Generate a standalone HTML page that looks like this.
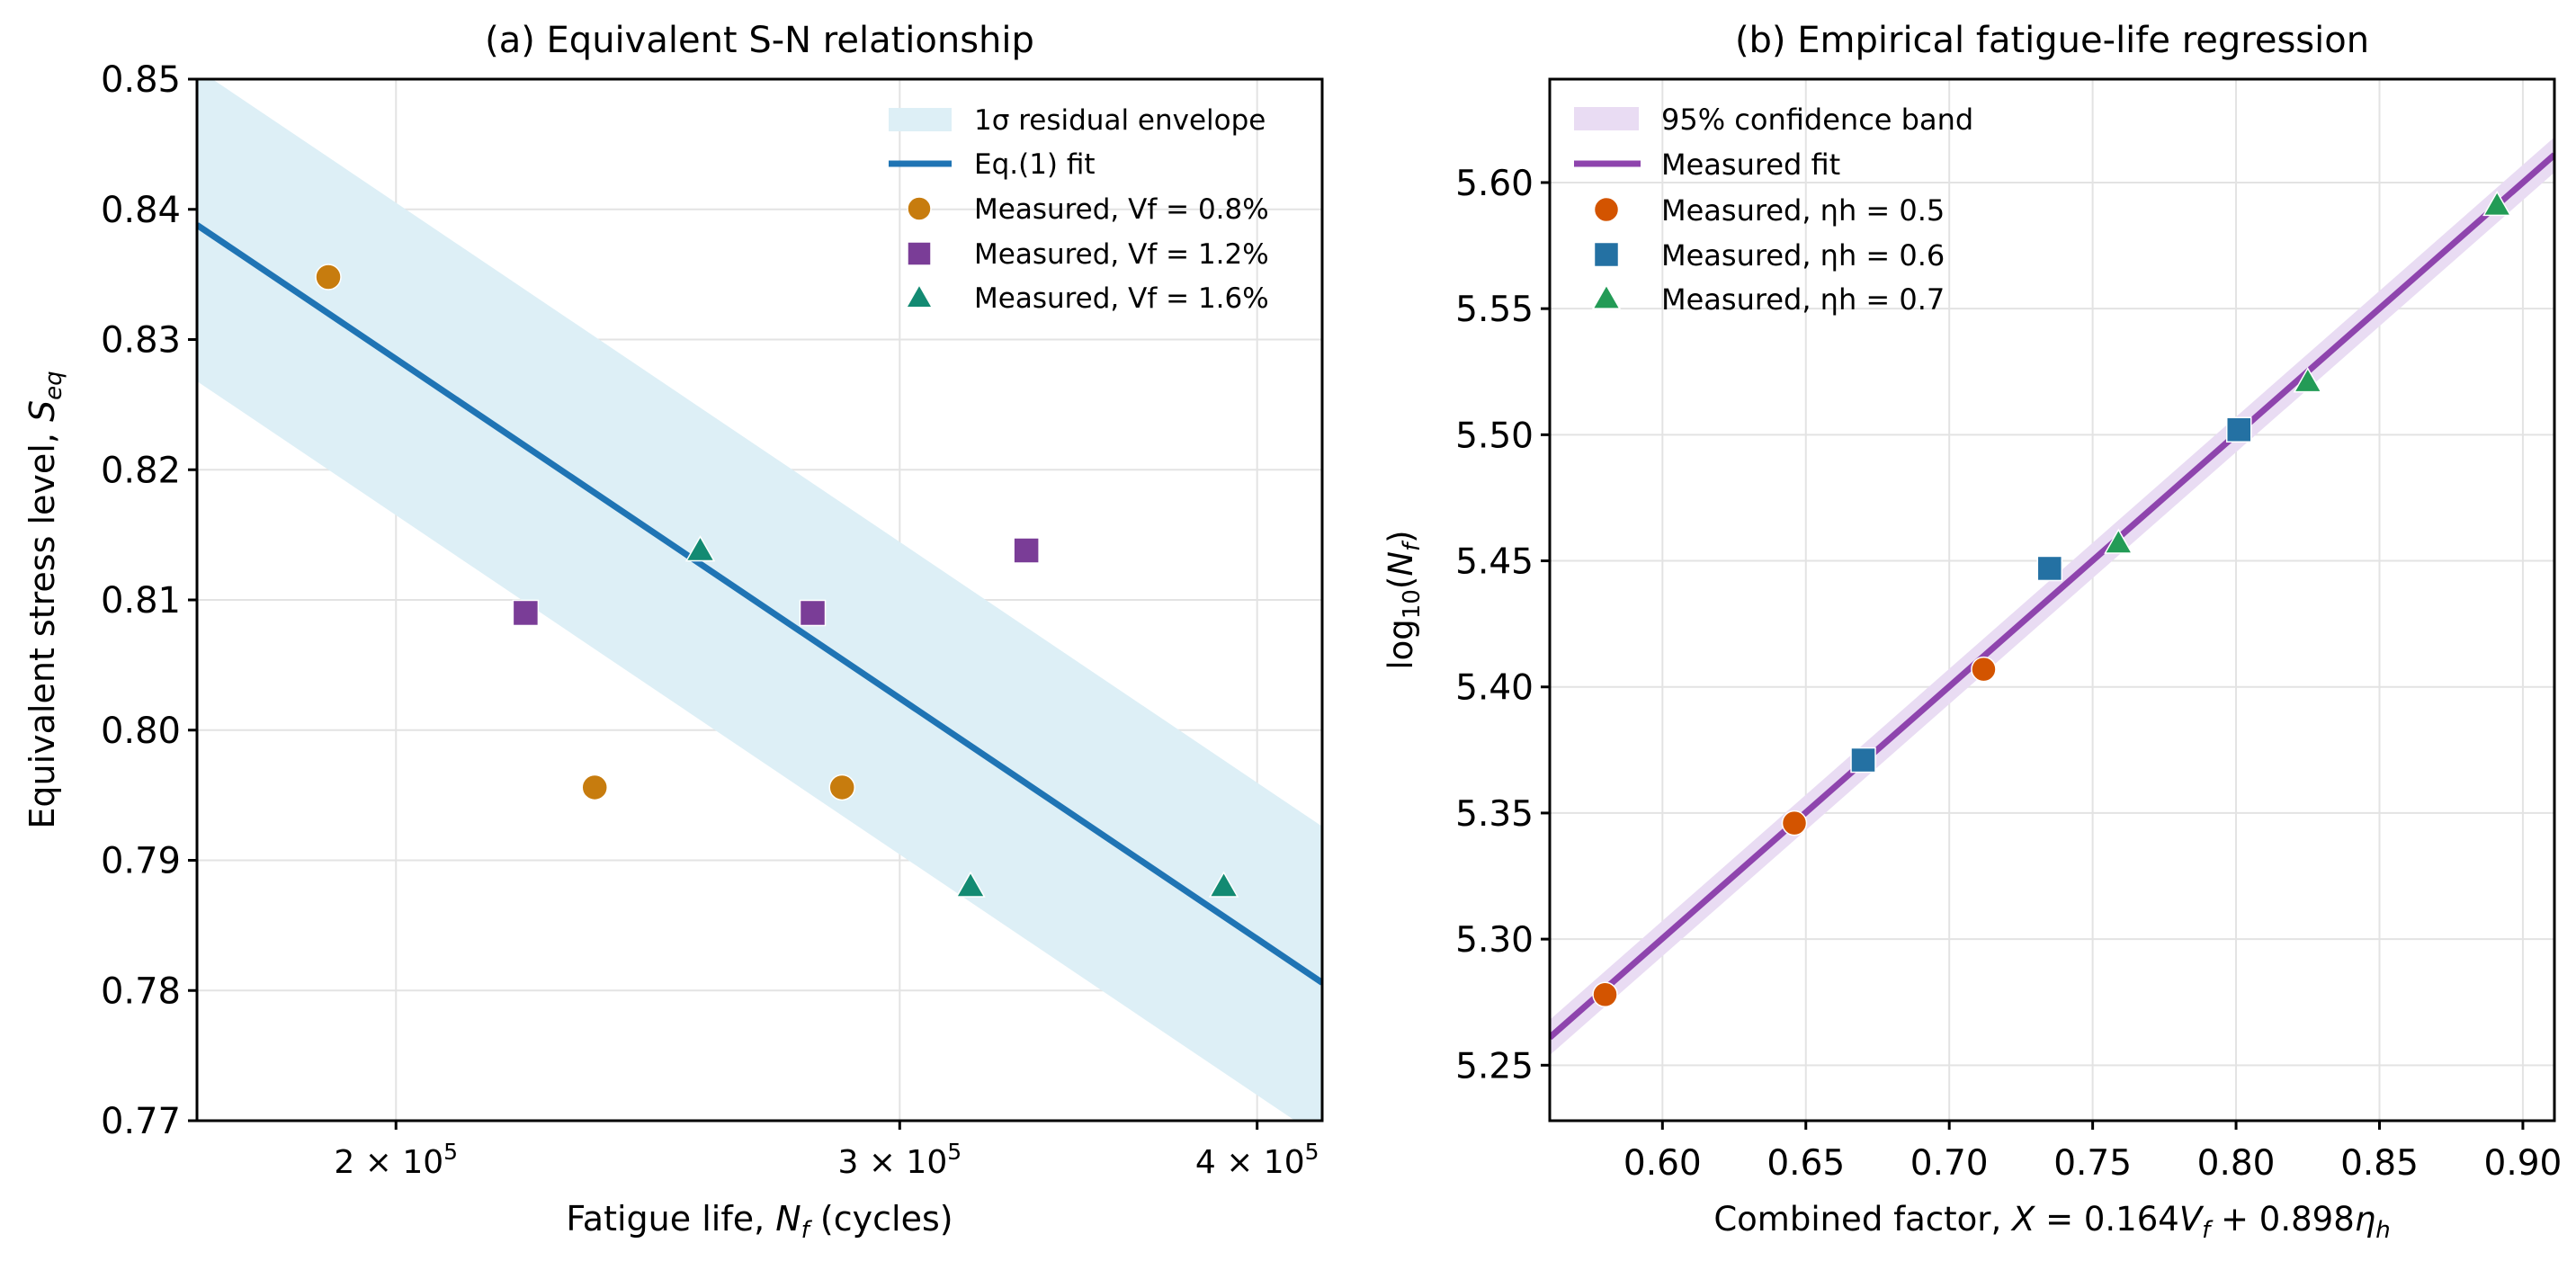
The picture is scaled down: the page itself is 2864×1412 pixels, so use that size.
<!DOCTYPE html>
<html><head><meta charset="utf-8"><style>
html,body{margin:0;padding:0;background:#fff}
svg{display:block;font-family:"DejaVu Sans","Liberation Sans",sans-serif}
</style></head><body>
<svg id="fig" width="2864" height="1412" viewBox="0 0 2864 1412" xmlns="http://www.w3.org/2000/svg">
<g id="pa"></g>
<g id="pb"></g>
</svg>
<script>
// ---- Panel (a) data ----
const aXTicks = [2e5, 3e5, 4e5];
const aXTickLabels = ["2", "3", "4"];
const aYTicks = [0.77, 0.78, 0.79, 0.80, 0.81, 0.82, 0.83, 0.84, 0.85];
const aYTickLabels = ["0.77","0.78","0.79","0.80","0.81","0.82","0.83","0.84","0.85"];
const aFitX = [1.704e5, 4.215e5];
const aFitY = [0.8388, 0.7806];
const aBandHalf = 0.0120;
const aVf08X = [1.894e5, 2.347e5, 2.864e5];
const aVf08Y = [0.8348, 0.7956, 0.7956];
const aVf12X = [2.22e5, 2.797e5, 3.322e5];
const aVf12Y = [0.8090, 0.8090, 0.8138];
const aVf16X = [2.555e5, 3.176e5, 3.894e5];
const aVf16Y = [0.8138, 0.7880, 0.7880];
// ---- Panel (b) data ----
const bXTicks = [0.60, 0.65, 0.70, 0.75, 0.80, 0.85, 0.90];
const bXTickLabels = ["0.60","0.65","0.70","0.75","0.80","0.85","0.90"];
const bYTicks = [5.25, 5.30, 5.35, 5.40, 5.45, 5.50, 5.55, 5.60];
const bYTickLabels = ["5.25","5.30","5.35","5.40","5.45","5.50","5.55","5.60"];
const bFitX = [0.5607, 0.911];
const bFitY = [5.261, 5.611];
const bBandHalf = 0.007;
const bEta5X = [0.580, 0.646, 0.712];
const bEta5Y = [5.278, 5.346, 5.407];
const bEta6X = [0.670, 0.735, 0.801];
const bEta6Y = [5.371, 5.447, 5.502];
const bEta7X = [0.759, 0.825, 0.891];
const bEta7Y = [5.457, 5.521, 5.591];

const NS = "http://www.w3.org/2000/svg";
function mk(parent, tag, attrs, text) {
  const e = document.createElementNS(NS, tag);
  for (const k in attrs) e.setAttribute(k, attrs[k]);
  if (text !== undefined) e.textContent = text;
  parent.appendChild(e);
  return e;
}
function marker(g, shape, cx, cy, s, fill) {
  let e;
  if (shape === "o") e = mk(g, "circle", {cx: cx, cy: cy, r: s / 2, fill: fill, stroke: "#fff", "stroke-width": 1.5});
  else if (shape === "s") e = mk(g, "rect", {x: cx - s / 2, y: cy - s / 2, width: s, height: s, fill: fill, stroke: "#fff", "stroke-width": 1.5});
  else { const h = s * 0.55; e = mk(g, "polygon", {points: `${cx},${cy - h} ${cx - h},${cy + h * 0.75} ${cx + h},${cy + h * 0.75}`, fill: fill, stroke: "#fff", "stroke-width": 1.5}); }
  return e;
}

// ===== Panel A =====
(function () {
  const g = document.getElementById("pa");
  const L = 219, R = 1470, T = 88, B = 1246;
  const xmin = Math.log10(1.704e5), xmax = Math.log10(4.215e5), ymin = 0.77, ymax = 0.85;
  const sx = v => L + (Math.log10(v) - xmin) / (xmax - xmin) * (R - L);
  const sy = v => B - (v - ymin) / (ymax - ymin) * (B - T);
  const defs = mk(g, "defs", {});
  const cp = mk(defs, "clipPath", {id: "clipA"});
  mk(cp, "rect", {x: L, y: T, width: R - L, height: B - T});
  const title = mk(g, "text", {x: (L + R) / 2, y: 58, "text-anchor": "middle", "font-size": 40}, "(a) Equivalent S-N relationship");
  
  
  const grid = mk(g, "g", {stroke: "#e3e3e3", "stroke-width": 2});
  aXTicks.forEach(t => mk(grid, "line", {x1: sx(t), x2: sx(t), y1: T, y2: B}));
  aYTicks.forEach(t => mk(grid, "line", {x1: L, x2: R, y1: sy(t), y2: sy(t)}));
  const plot = mk(g, "g", {"clip-path": "url(#clipA)"});
  const band = mk(plot, "polygon", {points: `${sx(aFitX[0])},${sy(aFitY[0] + aBandHalf)} ${sx(aFitX[1])},${sy(aFitY[1] + aBandHalf)} ${sx(aFitX[1])},${sy(aFitY[1] - aBandHalf)} ${sx(aFitX[0])},${sy(aFitY[0] - aBandHalf)}`, fill: "#ddeff6"});
  
  
  const fit = mk(plot, "line", {x1: sx(aFitX[0]), y1: sy(aFitY[0]), x2: sx(aFitX[1]), y2: sy(aFitY[1]), stroke: "#1f74b4", "stroke-width": 7});
  
  
  const series = [[aVf08X, aVf08Y, "o", "#c77c0e", "vf-0.8"], [aVf12X, aVf12Y, "s", "#7a3d97", "vf-1.2"], [aVf16X, aVf16Y, "^", "#138a72", "vf-1.6"]];
  series.forEach(([xs, ys, sh, c, nm]) => xs.forEach((x, i) => {
    const m = marker(plot, sh, sx(x), sy(ys[i]), 28, c);
    
    
  }));
  const ax = mk(g, "g", {stroke: "#000", "stroke-width": 3, fill: "none"});
  mk(ax, "rect", {x: L, y: T, width: R - L, height: B - T});
  aXTicks.forEach((t, i) => {
    mk(ax, "line", {x1: sx(t), x2: sx(t), y1: B, y2: B + 10});
    const tx = mk(g, "text", {x: sx(t), y: B + 58, "text-anchor": "middle", "font-size": 36, fill: "#000"});
    
    
    mk(tx, "tspan", {}, aXTickLabels[i] + " \u00d7 10");
    mk(tx, "tspan", {dy: -15, "font-size": 25}, "5");
  });
  aYTicks.forEach((t, i) => {
    mk(ax, "line", {x1: L - 10, x2: L, y1: sy(t), y2: sy(t)});
    const ty = mk(g, "text", {x: L - 18, y: sy(t) + 14, "text-anchor": "end", "font-size": 40}, aYTickLabels[i]);
    
    
  });
  const xl = mk(g, "text", {x: (L + R) / 2, y: 1368, "text-anchor": "middle", "font-size": 38});
  
  
  mk(xl, "tspan", {}, "Fatigue life, ");
  mk(xl, "tspan", {"font-style": "italic"}, "N");
  mk(xl, "tspan", {"font-style": "italic", "font-size": 26, dy: 8}, "f");
  mk(xl, "tspan", {dy: -8}, " (cycles)");
  const yl = mk(g, "text", {transform: `translate(60,${(T + B) / 2}) rotate(-90)`, "text-anchor": "middle", "font-size": 38});
  
  
  mk(yl, "tspan", {}, "Equivalent stress level, ");
  mk(yl, "tspan", {"font-style": "italic"}, "S");
  mk(yl, "tspan", {"font-style": "italic", "font-size": 26, dy: 8}, "eq");
  const lg = mk(g, "g", {"font-size": 31});
  
  
  const ly = [133, 182, 232, 282, 331], lx = 1083, mx = 1022;
  mk(lg, "rect", {x: 988, y: ly[0] - 13, width: 70, height: 26, fill: "#ddeff6"});
  mk(lg, "line", {x1: 988, x2: 1058, y1: ly[1], y2: ly[1], stroke: "#1f74b4", "stroke-width": 7});
  marker(lg, "o", mx, ly[2], 26, "#c77c0e");
  marker(lg, "s", mx, ly[3], 26, "#7a3d97");
  marker(lg, "^", mx, ly[4], 26, "#138a72");
  ["1\u03c3 residual envelope", "Eq.(1) fit", "Measured, Vf = 0.8%", "Measured, Vf = 1.2%", "Measured, Vf = 1.6%"].forEach((t, i) => {
    const e = mk(lg, "text", {x: lx, y: ly[i] + 11}, t);
    
    
  });
})();

// ===== Panel B =====
(function () {
  const g = document.getElementById("pb");
  const L = 1723, R = 2840, T = 88, B = 1246;
  const xmin = 0.5607, xmax = 0.911, ymin = 5.228, ymax = 5.641;
  const sx = v => L + (v - xmin) / (xmax - xmin) * (R - L);
  const sy = v => B - (v - ymin) / (ymax - ymin) * (B - T);
  const defs = mk(g, "defs", {});
  const cp = mk(defs, "clipPath", {id: "clipB"});
  mk(cp, "rect", {x: L, y: T, width: R - L, height: B - T});
  const title = mk(g, "text", {x: (L + R) / 2, y: 58, "text-anchor": "middle", "font-size": 40}, "(b) Empirical fatigue-life regression");
  
  
  const grid = mk(g, "g", {stroke: "#e3e3e3", "stroke-width": 2});
  bXTicks.forEach(t => mk(grid, "line", {x1: sx(t), x2: sx(t), y1: T, y2: B}));
  bYTicks.forEach(t => mk(grid, "line", {x1: L, x2: R, y1: sy(t), y2: sy(t)}));
  const plot = mk(g, "g", {"clip-path": "url(#clipB)"});
  const band = mk(plot, "polygon", {points: `${sx(bFitX[0])},${sy(bFitY[0] + bBandHalf)} ${sx(bFitX[1])},${sy(bFitY[1] + bBandHalf)} ${sx(bFitX[1])},${sy(bFitY[1] - bBandHalf)} ${sx(bFitX[0])},${sy(bFitY[0] - bBandHalf)}`, fill: "#e9dcf3"});
  
  
  const fit = mk(plot, "line", {x1: sx(bFitX[0]), y1: sy(bFitY[0]), x2: sx(bFitX[1]), y2: sy(bFitY[1]), stroke: "#8e44ad", "stroke-width": 7});
  
  
  const series = [[bEta5X, bEta5Y, "o", "#d35400", "eta-0.5"], [bEta6X, bEta6Y, "s", "#2471a3", "eta-0.6"], [bEta7X, bEta7Y, "^", "#239b56", "eta-0.7"]];
  series.forEach(([xs, ys, sh, c, nm]) => xs.forEach((x, i) => {
    const m = marker(plot, sh, sx(x), sy(ys[i]), 27, c);
    
    
  }));
  const ax = mk(g, "g", {stroke: "#000", "stroke-width": 3, fill: "none"});
  mk(ax, "rect", {x: L, y: T, width: R - L, height: B - T});
  bXTicks.forEach((t, i) => {
    mk(ax, "line", {x1: sx(t), x2: sx(t), y1: B, y2: B + 10});
    const tx = mk(g, "text", {x: sx(t), y: B + 60, "text-anchor": "middle", "font-size": 39}, bXTickLabels[i]);
    
    
  });
  bYTicks.forEach((t, i) => {
    mk(ax, "line", {x1: L - 10, x2: L, y1: sy(t), y2: sy(t)});
    const ty = mk(g, "text", {x: L - 18, y: sy(t) + 14, "text-anchor": "end", "font-size": 39}, bYTickLabels[i]);
    
    
  });
  const xl = mk(g, "text", {x: (L + R) / 2, y: 1368, "text-anchor": "middle", "font-size": 37});
  
  
  mk(xl, "tspan", {}, "Combined factor, ");
  mk(xl, "tspan", {"font-style": "italic"}, "X");
  mk(xl, "tspan", {}, " = 0.164");
  mk(xl, "tspan", {"font-style": "italic"}, "V");
  mk(xl, "tspan", {"font-style": "italic", "font-size": 26, dy: 8}, "f");
  mk(xl, "tspan", {dy: -8}, " + 0.898");
  mk(xl, "tspan", {"font-style": "italic"}, "\u03b7");
  mk(xl, "tspan", {"font-style": "italic", "font-size": 26, dy: 8}, "h");
  const yl = mk(g, "text", {transform: `translate(1570,${(T + B) / 2}) rotate(-90)`, "text-anchor": "middle", "font-size": 37});
  
  
  mk(yl, "tspan", {}, "log");
  mk(yl, "tspan", {"font-size": 26, dy: 8}, "10");
  mk(yl, "tspan", {dy: -8}, "(");
  mk(yl, "tspan", {"font-style": "italic"}, "N");
  mk(yl, "tspan", {"font-style": "italic", "font-size": 26, dy: 8}, "f");
  mk(yl, "tspan", {dy: -8}, ")");
  const lg = mk(g, "g", {"font-size": 32});
  
  
  const ly = [132, 182, 233, 283, 332], lx = 1847, mx = 1786;
  mk(lg, "rect", {x: 1750, y: ly[0] - 13, width: 72, height: 26, fill: "#e9dcf3"});
  mk(lg, "line", {x1: 1750, x2: 1824, y1: ly[1], y2: ly[1], stroke: "#8e44ad", "stroke-width": 7});
  marker(lg, "o", mx, ly[2], 27, "#d35400");
  marker(lg, "s", mx, ly[3], 27, "#2471a3");
  marker(lg, "^", mx, ly[4], 27, "#239b56");
  ["95% confidence band", "Measured fit", "Measured, \u03b7h = 0.5", "Measured, \u03b7h = 0.6", "Measured, \u03b7h = 0.7"].forEach((t, i) => {
    const e = mk(lg, "text", {x: lx, y: ly[i] + 12}, t);
    
    
  });
})();
</script>
</body></html>
